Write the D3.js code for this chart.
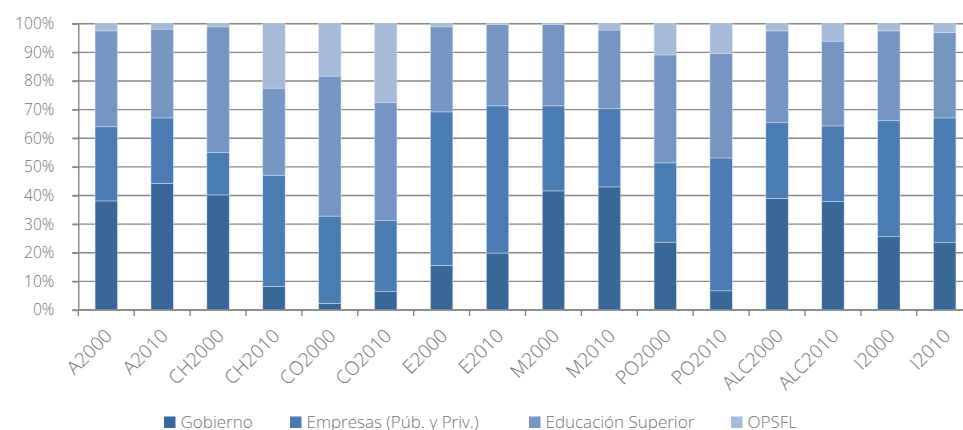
<!DOCTYPE html>
<html>
<head>
<meta charset="utf-8">
<script src="https://cdn.jsdelivr.net/npm/d3@7"></script>
<style>
  html, body { margin: 0; padding: 0; background: #fff; overflow: hidden; }
  svg { display: block; }
  text { font-family: "Open Sans", "Noto Sans", sans-serif; font-weight: 300; fill: #737373; }
</style>
</head>
<body>
<svg id="chart" width="963" height="430"></svg>
<script>
// ---- Data (percent shares) ----
const categories = ["A2000","A2010","CH2000","CH2010","CO2000","CO2010","E2000","E2010",
                    "M2000","M2010","PO2000","PO2010","ALC2000","ALC2010","I2000","I2010"];
const seriesNames = ["Gobierno","Empresas (Púb. y Priv.)","Educación Superior","OPSFL"];
const gobierno   = [38.1,44.2,40.2, 8.3, 2.3, 6.4,15.6,19.9,41.6,43.0,23.7, 6.7,39.0,37.9,25.6,23.5];
const empresas   = [25.9,22.9,14.9,38.6,30.5,24.8,53.6,51.4,29.7,27.3,27.7,46.4,26.4,26.4,40.5,43.6];
const educacion  = [33.5,31.0,43.8,30.6,48.9,41.3,29.7,28.5,28.4,27.5,37.7,36.6,32.1,29.6,31.4,29.8];
const opsfl      = [ 2.5, 1.9, 1.1,22.5,18.3,27.5, 1.1, 0.2, 0.3, 2.2,10.9,10.3, 2.5, 6.1, 2.5, 3.1];
const yTicks = [0,10,20,30,40,50,60,70,80,90,100];

// ---- Styles / layout ----
const colors = ["#376898","#4a7bb3","#7596c3","#a7bad7"];
const W = 963, H = 430;
const mLeft = 78.3, mTop = 23.7, mBottom = 310, plotRight = 972.7;

const svg = d3.select("#chart");

const rows = categories.map((c, i) => ({
  cat: c,
  [seriesNames[0]]: gobierno[i],
  [seriesNames[1]]: empresas[i],
  [seriesNames[2]]: educacion[i],
  [seriesNames[3]]: opsfl[i]
}));
const stacked = d3.stack().keys(seriesNames)(rows);

const x = d3.scaleBand().domain(categories).range([mLeft, plotRight])
  .paddingInner(0.6).paddingOuter(0.3);
const y = d3.scaleLinear().domain([0, 100]).range([mBottom, mTop]);

// Gridlines
svg.append("g").selectAll("line").data(yTicks).join("line")
  .attr("x1", mLeft - 6).attr("x2", W + 5)
  .attr("y1", d => y(d)).attr("y2", d => y(d))
  .attr("stroke", "#878787").attr("stroke-width", 1.4);

// Bars
svg.append("g").selectAll("g").data(stacked).join("g")
  .attr("fill", (d, i) => colors[i])
  .selectAll("rect").data(d => d).join("rect")
  .attr("x", d => x(d.data.cat))
  .attr("width", x.bandwidth())
  .attr("y", d => y(d[1]))
  .attr("height", d => Math.max(0, y(d[0]) - y(d[1])))
  .attr("stroke", "#dbe4f0").attr("stroke-width", 0.6).attr("stroke-opacity", 0.8);

// Y axis
const yAxis = d3.axisLeft(y).tickValues(yTicks).tickFormat(d => d + "%")
  .tickSize(6).tickSizeOuter(0).tickPadding(18);
const gy = svg.append("g").attr("transform", `translate(${mLeft},0)`).call(yAxis);
gy.select(".domain").attr("stroke", "#878787").attr("stroke-width", 1.4);
gy.selectAll(".tick line").attr("stroke", "#878787").attr("stroke-width", 1.4);
gy.selectAll(".tick text").attr("font-size", 15.5).attr("fill", "#737373")
  .attr("font-family", "'Open Sans', sans-serif").attr("font-weight", 300);

// X axis line
svg.append("line").attr("x1", mLeft).attr("x2", W + 5)
  .attr("y1", mBottom).attr("y2", mBottom)
  .attr("stroke", "#878787").attr("stroke-width", 1.4);

// X ticks at band boundaries
const boundaries = categories.map(c => x(c) - x.step() * x.paddingOuter()).concat([x.range()[1]]);
svg.append("g").selectAll("line").data(boundaries).join("line")
  .attr("x1", d => d).attr("x2", d => d)
  .attr("y1", mBottom).attr("y2", mBottom + 6)
  .attr("stroke", "#878787").attr("stroke-width", 1.4);

// X labels
svg.append("g").selectAll("text").data(categories).join("text")
  .attr("transform", d => `translate(${x(d) + x.bandwidth() / 2 + 7},${mBottom + 27}) rotate(-45)`)
  .attr("text-anchor", "end")
  .attr("font-size", 19)
  .text(d => d);

// Legend
const legendX = [164, 290, 529, 731];
const lg = svg.append("g").selectAll("g").data(seriesNames).join("g")
  .attr("transform", (d, i) => `translate(${legendX[i]},416.5)`);
lg.append("rect").attr("width", 11.5).attr("height", 11.5)
  .attr("fill", (d, i) => colors[i]);
lg.append("text").attr("x", 16.5).attr("y", 11)
  .attr("font-size", 17)
  .text(d => d);
</script>
</body>
</html>
